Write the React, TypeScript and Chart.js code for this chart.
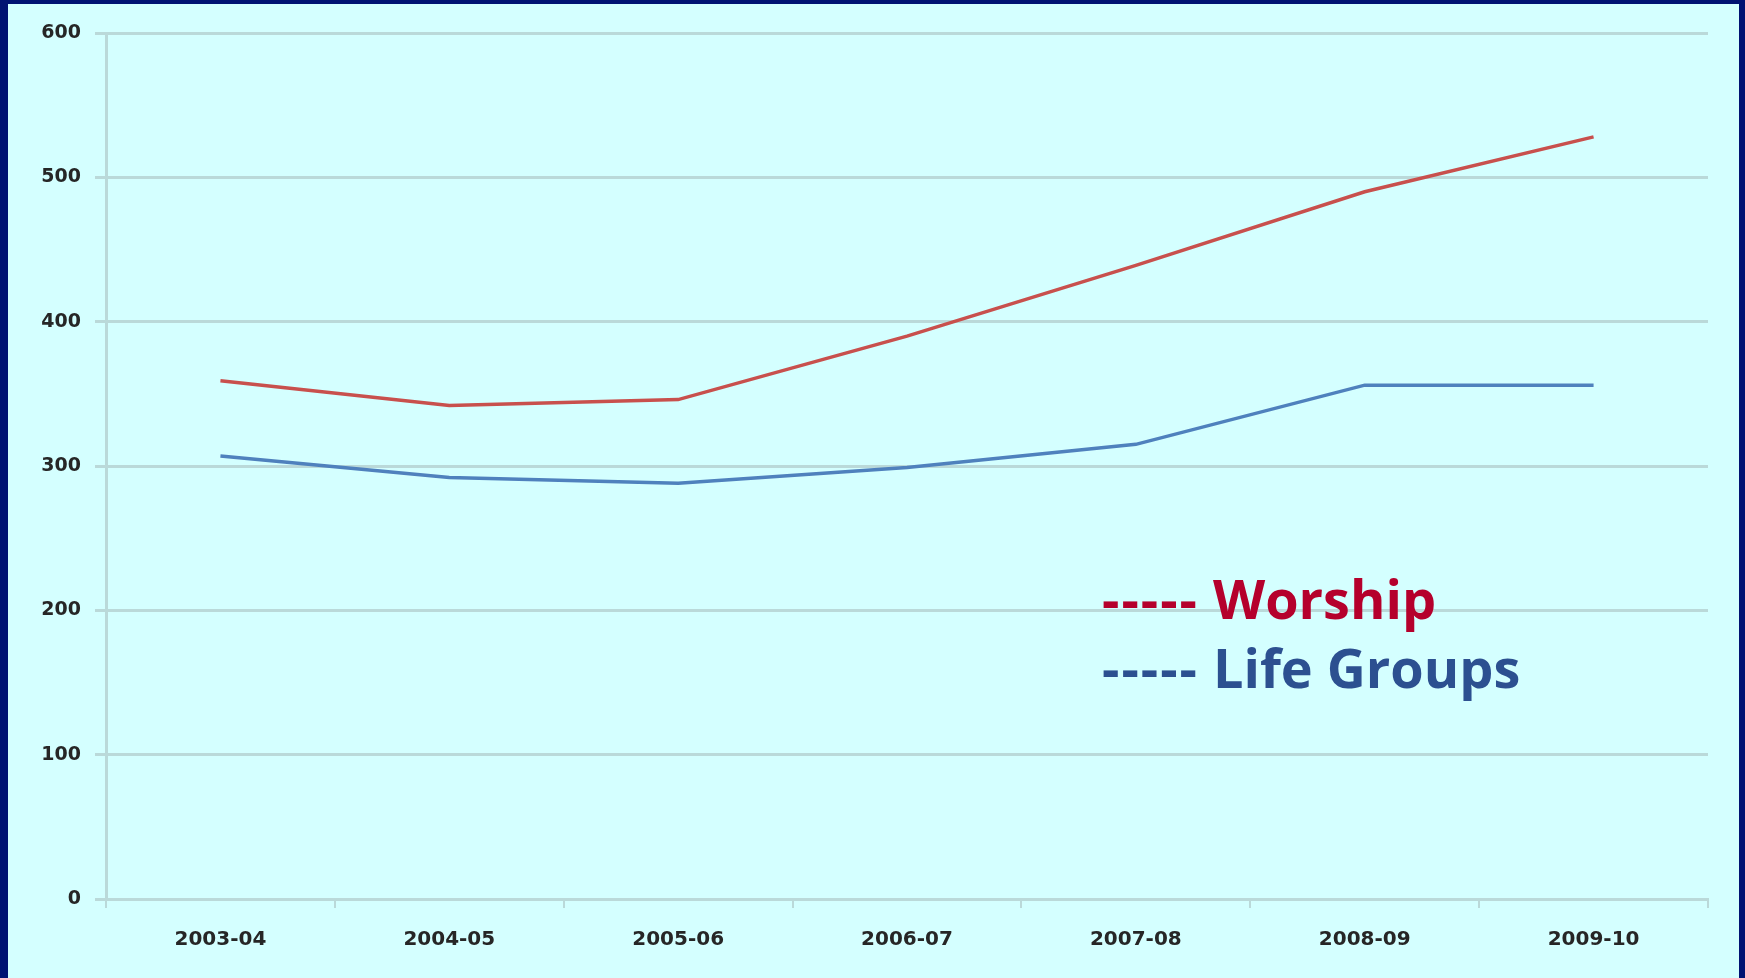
import React, { useEffect, useRef } from "react";
import { Chart, registerables } from "chart.js";

Chart.register(...registerables);

const categories = ["2003-04", "2004-05", "2005-06", "2006-07", "2007-08", "2008-09", "2009-10"];
const worship = [359, 342, 346, 390, 439, 490, 528];
const lifeGroups = [307, 292, 288, 299, 315, 356, 356];
const yTicks = [0, 100, 200, 300, 400, 500, 600];

const NAVY = "#001272";
const CYAN = "#d4ffff";
const GRID = "#bad9d9";

export default function App() {
  const ref = useRef<HTMLCanvasElement | null>(null);

  useEffect(() => {
    document.body.style.margin = "0";
    const canvas = ref.current;
    if (!canvas) return;
    const chart = new Chart(canvas, {
      type: "line",
      data: {
        labels: categories,
        datasets: [
          {
            label: "Worship",
            data: worship,
            borderColor: "#c8504d",
            borderWidth: 3.5,
            pointRadius: 0,
            tension: 0,
            fill: false,
          },
          {
            label: "Life Groups",
            data: lifeGroups,
            borderColor: "#4f81bd",
            borderWidth: 3.5,
            pointRadius: 0,
            tension: 0,
            fill: false,
          },
        ],
      },
      options: {
        animation: false,
        responsive: false,
        maintainAspectRatio: false,
        layout: { padding: { top: 29, right: 31, left: 0, bottom: 0 } },
        plugins: {
          legend: { display: false },
          tooltip: { enabled: false },
        },
        scales: {
          x: {
            type: "category",
            offset: true,
            grid: {
              offset: true,
              drawOnChartArea: false,
              drawTicks: true,
              tickLength: 9,
              color: GRID,
              lineWidth: 2,
            },
            border: { display: true, color: GRID, width: 3 },
            ticks: {
              color: "#262626",
              font: { family: "DejaVu Sans", weight: "bold", size: 20 },
              padding: 20,
              maxRotation: 0,
            },
            afterFit: (scale: any) => {
              scale.height = 79;
            },
          },
          y: {
            min: 0,
            max: 600,
            afterBuildTicks: (scale: any) => {
              scale.ticks = yTicks.map((v) => ({ value: v }));
            },
            grid: {
              color: GRID,
              lineWidth: 3,
              tickLength: 11,
              drawTicks: true,
            },
            border: { display: true, color: GRID, width: 3 },
            ticks: {
              color: "#262626",
              font: { family: "DejaVu Sans", weight: "bold", size: 19 },
              padding: 14,
            },
            afterFit: (scale: any) => {
              scale.width = 98;
            },
          },
        },
      },
    });
    return () => chart.destroy();
  }, []);

  const legendFont: React.CSSProperties = {
    position: "absolute",
    fontFamily: "'Open Sans', sans-serif",
    fontWeight: 700,
    fontSize: 54,
    lineHeight: "54px",
    whiteSpace: "pre",
    left: 1102,
  };
  const dashes: React.CSSProperties = { letterSpacing: 2 };

  return (
    <div
      style={{
        position: "relative",
        width: 1745,
        height: 978,
        background: NAVY,
        overflow: "hidden",
      }}
    >
      <div
        style={{
          position: "absolute",
          left: 8,
          top: 4,
          width: 1731,
          height: 974,
          background: CYAN,
        }}
      >
        <canvas ref={ref} width={1731} height={974} style={{ display: "block" }} />
      </div>
      <div style={{ ...legendFont, top: 571, color: "#b5002c" }}>
        <span style={dashes}>-----</span> Worship
      </div>
      <div style={{ ...legendFont, top: 640, color: "#2c5090" }}>
        <span style={dashes}>-----</span> Life Groups
      </div>
    </div>
  );
}
